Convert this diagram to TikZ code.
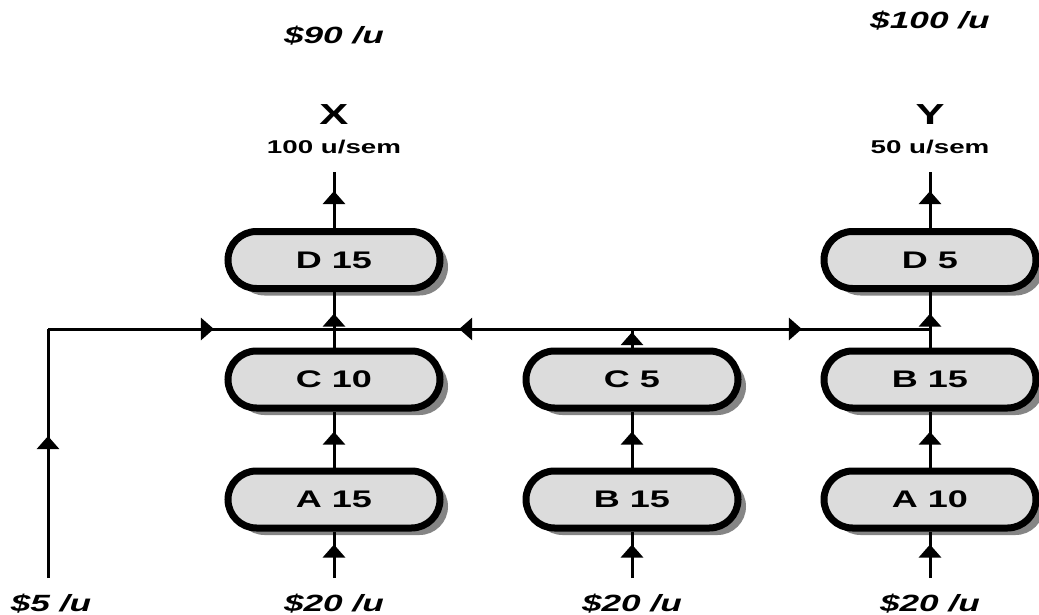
\documentclass[tikz,border=0pt]{standalone}
\usepackage{fontspec}
\setmainfont{Liberation Sans}[FakeStretch=1.5]
\usetikzlibrary{shapes.misc,shadows,arrows.meta,decorations.markings}
\definecolor{opfill}{HTML}{DCDCDC}
\definecolor{opshadow}{HTML}{858585}
\tikzset{
  op/.style={rounded rectangle, draw=black, line width=7pt, fill=opfill,
    minimum width=212pt, minimum height=57pt, inner sep=0pt,
    font=\fontsize{24}{24}\selectfont\bfseries,
    drop shadow={shadow xshift=8pt, shadow yshift=-7pt, fill=opshadow, opacity=1}},
  flow/.style={line width=3pt},
  tipat/.style={postaction={decorate}, decoration={markings,
    mark=at position #1 with {\arrow{Triangle[width=22pt,length=13pt]}}}},
  price/.style={font=\fontsize{23.5}{23.5}\selectfont\bfseries\itshape},
  prod/.style={font=\fontsize{29}{29}\selectfont\bfseries},
  rate/.style={font=\fontsize{18.5}{18.5}\selectfont\bfseries}
}
\begin{document}
\begin{tikzpicture}[x=1pt,y=-1pt]
\useasboundingbox (0,0) rectangle (1039,615);

% operations
\node[op] (A1) at (334,499.5) {A 15};
\node[op] (C1) at (334,379.5) {C 10};
\node[op] (D1) at (334,260) {D 15};
\node[op] (B2) at (632,499.5) {B 15};
\node[op] (C2) at (632,379.5) {C 5};
\node[op] (A3) at (930,499.5) {A 10};
\node[op] (B3) at (930,379.5) {B 15};
\node[op] (D3) at (930,260) {D 5};

% raw material entries, junctions and outputs
\coordinate (in0) at (48,578);
\coordinate (corner) at (48,329);
\coordinate (in1) at (334,578);
\coordinate (in2) at (632,578);
\coordinate (in3) at (930,578);
\coordinate (j1) at (334,329);
\coordinate (j2) at (632,329);
\coordinate (j3) at (930,329);
\coordinate (out1) at (334,172);
\coordinate (out3) at (930,172);

% prices and products
\node[price] (p90) at (334,36) {\$90 /u};
\node[price] (p100) at (930,21) {\$100 /u};
\node[prod] (X) at (334,115) {X};
\node[rate] (rx) at (334,147) {100 u/sem};
\node[prod] (Y) at (930,115) {Y};
\node[rate] (ry) at (930,147) {50 u/sem};
\node[price] (p5) at (51,604) {\$5 /u};
\node[price] (p20a) at (334,604) {\$20 /u};
\node[price] (p20b) at (632,604) {\$20 /u};
\node[price] (p20c) at (930,604) {\$20 /u};

% left column
\draw[flow,tipat=0.72] (in1) -- (A1.south);
\draw[flow,tipat=0.64] (A1.north) -- (C1.south);
\draw[flow,tipat=0.61] (C1.north) -- (D1.south);
\draw[flow,tipat=0.66] (D1.north) -- (out1);

% middle column
\draw[flow,tipat=0.72] (in2) -- (B2.south);
\draw[flow,tipat=0.64] (B2.north) -- (C2.south);
\draw[flow,tipat=0.83] (C2.north) -- (j2);

% right column
\draw[flow,tipat=0.72] (in3) -- (A3.south);
\draw[flow,tipat=0.64] (A3.north) -- (B3.south);
\draw[flow,tipat=0.61] (B3.north) -- (D3.south);
\draw[flow,tipat=0.66] (D3.north) -- (out3);

% shared material line
\draw[flow,tipat=0.57] (in0) -- (corner);
\draw[flow,tipat=0.58] (corner) -- (j1);
\draw[flow,tipat=0.58] (j2) -- (j1);
\draw[flow,tipat=0.57] (j2) -- (j3);
\end{tikzpicture}
\end{document}
